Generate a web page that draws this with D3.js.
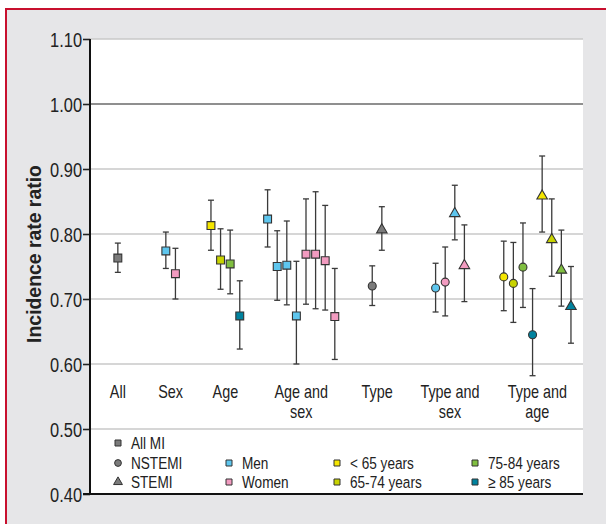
<!DOCTYPE html>
<html>
<head>
<meta charset="utf-8">
<script src="https://cdn.jsdelivr.net/npm/d3@7"></script>
<style>
  body { margin: 0; background: #fff; }
  svg text { font-family: "Liberation Sans", Arial, sans-serif; fill: #222; }
</style>
</head>
<body>
<script>
// Groups along the x axis (label lines, center in slot units)
var groupLabels = [["All"], ["Sex"], ["Age"], ["Age and", "sex"], ["Type"], ["Type and", "sex"], ["Type and", "age"]];
var groupCenters = [2.9, 8.4, 14.1, 22.0, 29.9, 37.5, 46.6];

// One entry per estimate
var pointGroup = [0, 1, 1, 2, 2, 2, 2, 3, 3, 3, 3, 3, 3, 3, 3, 4, 4, 5, 5, 5, 5, 6, 6, 6, 6, 6, 6, 6, 6];
var pointShape = ["square", "square", "square", "square", "square", "square", "square",
    "square", "square", "square", "square", "square", "square", "square", "square",
    "circle", "triangle", "circle", "circle", "triangle", "triangle",
    "circle", "circle", "circle", "circle", "triangle", "triangle", "triangle", "triangle"];
var pointColor = ["all", "men", "women", "a65", "a6574", "a7584", "a85",
    "men", "men", "men", "men", "women", "women", "women", "women",
    "all", "all", "men", "women", "men", "women",
    "a65", "a6574", "a7584", "a85", "a65", "a6574", "a7584", "a85"];
var irr   = [0.763, 0.774, 0.739, 0.813, 0.760, 0.754, 0.674,
    0.823, 0.750, 0.752, 0.674, 0.769, 0.769, 0.759, 0.673,
    0.720, 0.808, 0.717, 0.726, 0.833, 0.753,
    0.734, 0.724, 0.749, 0.645, 0.860, 0.793, 0.746, 0.690];
var lower = [0.741, 0.747, 0.700, 0.775, 0.715, 0.708, 0.623,
    0.780, 0.698, 0.691, 0.600, 0.692, 0.685, 0.683, 0.607,
    0.690, 0.775, 0.680, 0.674, 0.791, 0.696,
    0.682, 0.664, 0.687, 0.582, 0.803, 0.735, 0.689, 0.632];
var upper = [0.786, 0.803, 0.778, 0.852, 0.808, 0.806, 0.728,
    0.868, 0.805, 0.820, 0.758, 0.854, 0.865, 0.844, 0.747,
    0.751, 0.842, 0.755, 0.780, 0.875, 0.814,
    0.789, 0.787, 0.817, 0.716, 0.920, 0.854, 0.806, 0.750];

var yTicks = [0.40, 0.50, 0.60, 0.70, 0.80, 0.90, 1.00, 1.10];

var colors = {
    all: "#7b7b7b", men: "#5ec6ee", women: "#f29bc0",
    a65: "#f5e600", a6574: "#c8d300", a7584: "#80bf40", a85: "#00829e"
};

// Legend entries: column, row
var legendLabels = ["All MI", "NSTEMI", "STEMI", "Men", "Women", "< 65 years", "65-74 years", "75-84 years", "\u2265 85 years"];
var legendShape = ["square", "circle", "triangle", "square", "square", "square", "square", "square", "square"];
var legendColor = ["all", "all", "all", "men", "women", "a65", "a6574", "a7584", "a85"];
var legendCol = [0, 0, 0, 1, 1, 2, 2, 3, 3];
var legendRow = [0, 1, 2, 1, 2, 1, 2, 1, 2];

var W = 606, H = 524;
var pLeft = 90, pRight = 583, pTop = 39, pBottom = 494;
var narrow = 0.8;   // squeeze text to look like a condensed face

var svg = d3.select("body").append("svg")
    .attr("width", W)
    .attr("height", H);

// outer panel
svg.append("rect").attr("x", 0).attr("y", 0).attr("width", W).attr("height", H).attr("fill", "#fff");
svg.append("rect").attr("x", 6).attr("y", 9).attr("width", W).attr("height", H)
    .attr("fill", "#e6e6e8").attr("stroke", "#c8102e").attr("stroke-width", 2);

var y = d3.scaleLinear().domain([0.40, 1.10]).range([pBottom, pTop]);
var x = d3.scaleLinear().domain([0, 50]).range([pLeft, pLeft + 480]);

svg.append("rect").attr("x", pLeft).attr("y", pTop).attr("width", pRight - pLeft).attr("height", pBottom - pTop)
    .attr("fill", "#fff");

// grid lines
svg.selectAll(".grid")
    .data(yTicks.filter(function(d) { return d > 0.41; }))
    .enter().append("line")
    .attr("x1", pLeft).attr("x2", pRight)
    .attr("y1", function(d) { return y(d); })
    .attr("y2", function(d) { return y(d); })
    .attr("stroke", function(d) { return Math.abs(d - 1) < 0.001 ? "#6a6a6a" : "#c9c9c9"; })
    .attr("stroke-width", 1.6);

// y axis
var yAxis = d3.axisLeft(y).tickValues(yTicks).tickFormat(d3.format(".2f")).tickSize(7).tickPadding(1);
var ga = svg.append("g").attr("transform", "translate(" + pLeft + ",0)").call(yAxis);
ga.select(".domain").remove();
ga.selectAll(".tick line").attr("stroke", "#222").attr("stroke-width", 1.6);
ga.selectAll(".tick text")
    .attr("x", null).attr("dy", null)
    .attr("transform", "translate(-8,7) scale(" + narrow + ",1)")
    .attr("font-size", 20.5).attr("fill", "#222")
    .style("font-family", "'Liberation Sans', Arial, sans-serif");

svg.append("line").attr("x1", pLeft).attr("x2", pLeft).attr("y1", pTop).attr("y2", pBottom + 1)
    .attr("stroke", "#111").attr("stroke-width", 2);
svg.append("line").attr("x1", pLeft - 7).attr("x2", pRight).attr("y1", pBottom).attr("y2", pBottom)
    .attr("stroke", "#111").attr("stroke-width", 2);

svg.append("text")
    .attr("transform", "translate(41,254) rotate(-90) scale(0.97,1)")
    .attr("text-anchor", "middle")
    .attr("font-size", 20).attr("font-weight", "bold")
    .text("Incidence rate ratio");

// group labels
groupLabels.forEach(function(lines, g) {
    lines.forEach(function(s, k) {
        svg.append("text")
            .attr("transform", "translate(" + x(groupCenters[g]) + "," + (398 + k * 20) + ") scale(" + narrow + ",1)")
            .attr("text-anchor", "middle")
            .attr("font-size", 18)
            .text(s);
    });
});

// point positions
var groupCount = {}, groupIndex = [];
pointGroup.forEach(function(g) {
    groupCount[g] = (groupCount[g] || 0);
    groupIndex.push(groupCount[g]);
    groupCount[g] += 1;
});
function px(i) {
    var g = pointGroup[i];
    return x(groupCenters[g] + groupIndex[i] - (groupCount[g] - 1) / 2);
}

var sym = {
    square: d3.symbol().type(d3.symbolSquare),
    circle: d3.symbol().type(d3.symbolCircle),
    triangle: d3.symbol().type(d3.symbolTriangle)
};
var markSize = { square: 62, circle: 50, triangle: 48 };

var pts = svg.selectAll(".pt").data(irr).enter().append("g");

pts.append("line")
    .attr("x1", function(d, i) { return px(i); })
    .attr("x2", function(d, i) { return px(i); })
    .attr("y1", function(d, i) { return y(upper[i]); })
    .attr("y2", function(d, i) { return y(lower[i]); })
    .attr("stroke", "#3a3a3a").attr("stroke-width", 1.3);
[upper, lower].forEach(function(arr) {
    pts.append("line")
        .attr("x1", function(d, i) { return px(i) - 3; })
        .attr("x2", function(d, i) { return px(i) + 3; })
        .attr("y1", function(d, i) { return y(arr[i]); })
        .attr("y2", function(d, i) { return y(arr[i]); })
        .attr("stroke", "#3a3a3a").attr("stroke-width", 1.3);
});

pts.append("path")
    .attr("d", function(d, i) { return sym[pointShape[i]].size(markSize[pointShape[i]])(); })
    .attr("transform", function(d, i) {
        var dy = pointShape[i] === "triangle" ? 1 : 0;
        return "translate(" + px(i) + "," + (y(d) + dy) + ")";
    })
    .attr("fill", function(d, i) { return colors[pointColor[i]]; })
    .attr("stroke", "#333").attr("stroke-width", 1.1);

// legend
var legX = [118, 229, 337, 475], legY = [443, 463, 482];
var leg = svg.selectAll(".leg").data(legendLabels).enter().append("g")
    .attr("transform", function(d, i) { return "translate(" + legX[legendCol[i]] + "," + legY[legendRow[i]] + ")"; });
leg.append("path")
    .attr("d", function(d, i) { return sym[legendShape[i]].size(legendShape[i] === "triangle" ? 34 : 36)(); })
    .attr("fill", function(d, i) { return colors[legendColor[i]]; })
    .attr("stroke", "#333").attr("stroke-width", 1);
leg.append("text")
    .attr("transform", "translate(13,6) scale(" + narrow + ",1)")
    .attr("font-size", 17)
    .text(function(d) { return d; });
</script>
</body>
</html>
